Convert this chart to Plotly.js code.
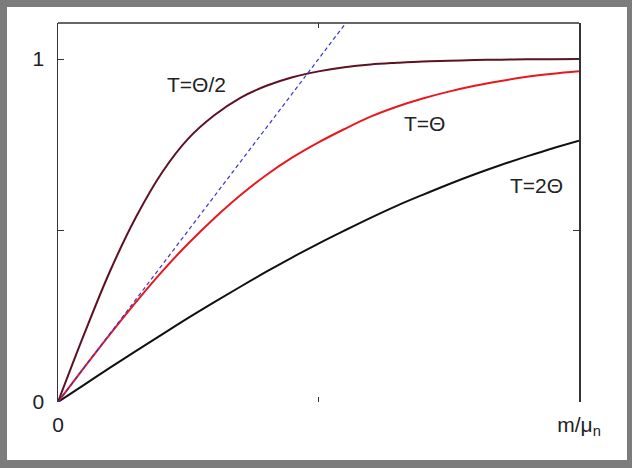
<!DOCTYPE html>
<html>
<head>
<meta charset="utf-8">
<script src="https://cdn.plot.ly/plotly-3.0.1.min.js"></script>
<style>
  html, body { margin: 0; padding: 0; width: 632px; height: 468px; background: #7c7c7c; overflow: hidden; }
  #chart { position: absolute; left: 7px; top: 7px; width: 620px; height: 453px; background: #ffffff; }
</style>
</head>
<body>
<div id="chart"></div>
<script>
// magnetisation-like curves versus m/mu_n for three temperatures
const ratio = [0, 0.05, 0.10, 0.15, 0.20, 0.25, 0.30, 0.35, 0.40, 0.45, 0.50,
               0.55, 0.60, 0.65, 0.70, 0.75, 0.80, 0.85, 0.90, 0.95, 1.00];

// T = Θ/2
const halfTheta = [0, 0.197, 0.382, 0.540, 0.670, 0.768, 0.836, 0.887, 0.922, 0.947, 0.964,
                   0.976, 0.984, 0.989, 0.993, 0.995, 0.997, 0.998, 0.999, 0.999, 1.000];
// T = Θ
const oneTheta = [0, 0.100, 0.198, 0.292, 0.381, 0.462, 0.536, 0.603, 0.662, 0.713, 0.757,
                  0.796, 0.832, 0.861, 0.885, 0.905, 0.922, 0.936, 0.948, 0.957, 0.964];
// T = 2Θ
const twoTheta = [0, 0.050, 0.100, 0.149, 0.197, 0.245, 0.291, 0.336, 0.380, 0.422, 0.462,
                  0.500, 0.537, 0.572, 0.604, 0.635, 0.664, 0.691, 0.716, 0.740, 0.762];

// initial slope of the T = Θ curve
const tangentX = [0, 0.56];
const tangentY = [0, 1.12];

// labelled ticks and the unlabelled middle ticks
const yTicks = [0, 1];
const yTickText = ['0', '1'];
const yMidTicks = [0.5];
const xTicks = [0, 1];
const xTickText = ['0', 'm/μ<sub>n</sub>'];
const xMidTicks = [0.5];

const curveLabels = ['T=Θ/2', 'T=Θ', 'T=2Θ'];
const labelX = [0.265, 0.7035, 0.918];
const labelY = [0.926, 0.812, 0.630];

const textFont = { family: 'Liberation Sans, Arial, Helvetica, sans-serif', size: 21, color: '#222222' };

const traces = [
  { x: ratio, y: twoTheta, mode: 'lines', line: { color: '#111111', width: 2, shape: 'spline' } },
  { x: ratio, y: oneTheta, mode: 'lines', line: { color: '#e8191e', width: 2, shape: 'spline' } },
  { x: ratio, y: halfTheta, mode: 'lines', line: { color: '#5e1122', width: 2, shape: 'spline' } },
  { x: tangentX, y: tangentY, mode: 'lines', line: { color: '#3535cc', width: 1.2, dash: '4px,3px' } }
];

const layout = {
  width: 620,
  height: 453,
  margin: { l: 51, r: 48, t: 16, b: 58, autoexpand: false },
  paper_bgcolor: '#ffffff',
  plot_bgcolor: '#ffffff',
  showlegend: false,
  font: textFont,
  xaxis: {
    range: [0, 1],
    showgrid: false,
    zeroline: false,
    showline: false,
    ticks: 'inside',
    ticklen: 5,
    tickwidth: 1,
    tickcolor: '#333333',
    mirror: 'ticks',
    tickvals: xTicks,
    ticktext: xTickText,
    ticklabelstandoff: 8,
    tickfont: textFont,
    minor: { tickvals: xMidTicks, ticks: 'inside', ticklen: 5, tickwidth: 1, tickcolor: '#333333', showgrid: false }
  },
  yaxis: {
    range: [0, 1.105],
    showgrid: false,
    zeroline: false,
    showline: true,
    linecolor: '#333333',
    linewidth: 1.5,
    mirror: 'ticks',
    ticks: 'inside',
    ticklen: 6,
    tickwidth: 1,
    tickcolor: '#333333',
    tickvals: yTicks,
    ticktext: yTickText,
    ticklabelstandoff: 8,
    tickfont: textFont,
    minor: { tickvals: yMidTicks, ticks: 'inside', ticklen: 6, tickwidth: 1, tickcolor: '#333333', showgrid: false }
  },
  shapes: [
    { type: 'line', xref: 'paper', yref: 'paper', x0: 0, x1: 1, y0: 1, y1: 1,
      line: { color: '#333333', width: 1.5 } }
  ],
  annotations: curveLabels.map((t, i) => ({
    x: labelX[i], y: labelY[i], xref: 'x', yref: 'y', text: t,
    showarrow: false, font: textFont, xanchor: 'center', yanchor: 'middle'
  }))
};

Plotly.newPlot('chart', traces, layout, { staticPlot: true, displayModeBar: false }).then(gd => {
  // drop the empty placeholder title nodes Plotly leaves behind
  gd.querySelectorAll('text').forEach(t => {
    if (!t.textContent.trim()) t.remove();
  });
});
</script>
</body>
</html>
